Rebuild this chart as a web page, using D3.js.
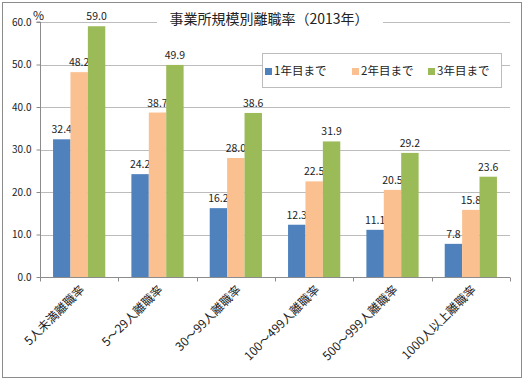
<!DOCTYPE html>
<html><head><meta charset="utf-8">
<script src="https://cdn.jsdelivr.net/npm/d3@7"></script>
<style>body{margin:0;background:#fff}svg{display:block}</style>
</head><body><svg id="c" width="525" height="383"></svg>
<script>
const categories = ["5人未満離職率","5～29人離職率","30～99人離職率","100～499人離職率","500～999人離職率","1000人以上離職率"];
const seriesNames = ["1年目まで","2年目まで","3年目まで"];
const year1 = [32.4,24.2,16.2,12.3,11.1,7.8];
const year2 = [48.2,38.7,28.0,22.5,20.5,15.8];
const year3 = [59.0,49.9,38.6,31.9,29.2,23.6];
const yTicks = [0,10,20,30,40,50,60];
const colors = ["#4F81BD","#FAC090","#9BBB59"];
const series = [year1,year2,year3];

const svg = d3.select("#c");
const font = "'Noto Sans CJK JP','Noto Sans',sans-serif";
const L=40,R=510,T=22,B=277;
svg.append("rect").attr("x",2.5).attr("y",2.5).attr("width",519).attr("height",375).attr("fill","#fff").attr("stroke","#8c8c8c");

const y = d3.scaleLinear().domain([0,60]).range([B,T]);
const x0 = d3.scaleBand().domain(categories).range([L,R]).paddingInner(0).paddingOuter(0);
const bw = x0.bandwidth()/(3+1.5);
const x1 = d3.scaleBand().domain([0,1,2]).range([0,bw*3]);

// gridlines
svg.append("g").selectAll("line").data(yTicks.filter(d=>d>0)).join("line")
  .attr("x1",L).attr("x2",R).attr("y1",d=>Math.round(y(d))+0.5).attr("y2",d=>Math.round(y(d))+0.5)
  .attr("stroke","#bcbcbc");

// bars
const g = svg.append("g");
series.forEach((s,si)=>{
  g.selectAll(null).data(s).join("rect")
    .attr("x",(d,i)=>x0(categories[i])+bw*0.75+x1(si))
    .attr("y",d=>y(d)).attr("width",x1.bandwidth()).attr("height",d=>B-y(d))
    .attr("fill",colors[si]);
  g.selectAll(null).data(s).join("text")
    .attr("x",(d,i)=>x0(categories[i])+bw*0.75+x1(si)+x1.bandwidth()/2)
    .attr("y",d=>y(d)-6).attr("text-anchor","middle")
    .attr("font-family",font).attr("font-size",10.5).attr("fill","#222")
    .text(d=>d.toFixed(1));
});

// axes
const ya = d3.axisLeft(y).tickValues(yTicks).tickSize(4).tickFormat(d=>d.toFixed(1));
const yg = svg.append("g").attr("transform",`translate(${L+0.5},0)`).call(ya);
yg.select(".domain").attr("stroke","#8c8c8c").attr("d",`M-4,${T}H0V${B}`);
yg.selectAll(".tick line").attr("stroke","#8c8c8c");
yg.selectAll(".tick text").attr("font-family",font).attr("font-size",10).attr("fill","#222").attr("x",-9);

const xg = svg.append("g").attr("transform",`translate(0,${B+0.5})`);
xg.append("line").attr("x1",L).attr("x2",R).attr("stroke","#8c8c8c");
xg.selectAll("line.t").data(d3.range(categories.length+1)).join("line").attr("class","t")
  .attr("x1",i=>Math.round(L+i*x0.bandwidth())+0.5).attr("x2",i=>Math.round(L+i*x0.bandwidth())+0.5)
  .attr("y1",0).attr("y2",4).attr("stroke","#8c8c8c");
xg.selectAll("text").data(categories).join("text")
  .attr("transform",d=>`translate(${x0(d)+x0.bandwidth()/2+3},${10}) rotate(-45)`)
  .attr("text-anchor","end").attr("dy","0.35em")
  .attr("font-family",font).attr("font-size",12).attr("fill","#222").text(d=>d);

// percent sign
svg.append("text").attr("x",33).attr("y",20).attr("font-family",font).attr("font-size",12).attr("fill","#222").text("%");

// title
svg.append("rect").attr("x",157).attr("y",8).attr("width",226).attr("height",22).attr("fill","#fff");
svg.append("text").attr("x",269).attr("y",24).attr("text-anchor","middle").attr("font-family",font)
  .attr("font-size",14).attr("fill","#222").text("事業所規模別離職率（2013年）");

// legend
const lg = svg.append("g");
lg.append("rect").attr("x",262.5).attr("y",53.5).attr("width",239).attr("height",34).attr("fill","#fff").attr("stroke","#bcbcbc");
const lx=[265,352,428];
seriesNames.forEach((n,i)=>{
  lg.append("rect").attr("x",lx[i]).attr("y",68).attr("width",7).attr("height",7).attr("fill",colors[i]);
  lg.append("text").attr("x",lx[i]+9).attr("y",75).attr("font-family",font).attr("font-size",11.5).attr("fill","#222").text(n);
});
</script></body></html>
